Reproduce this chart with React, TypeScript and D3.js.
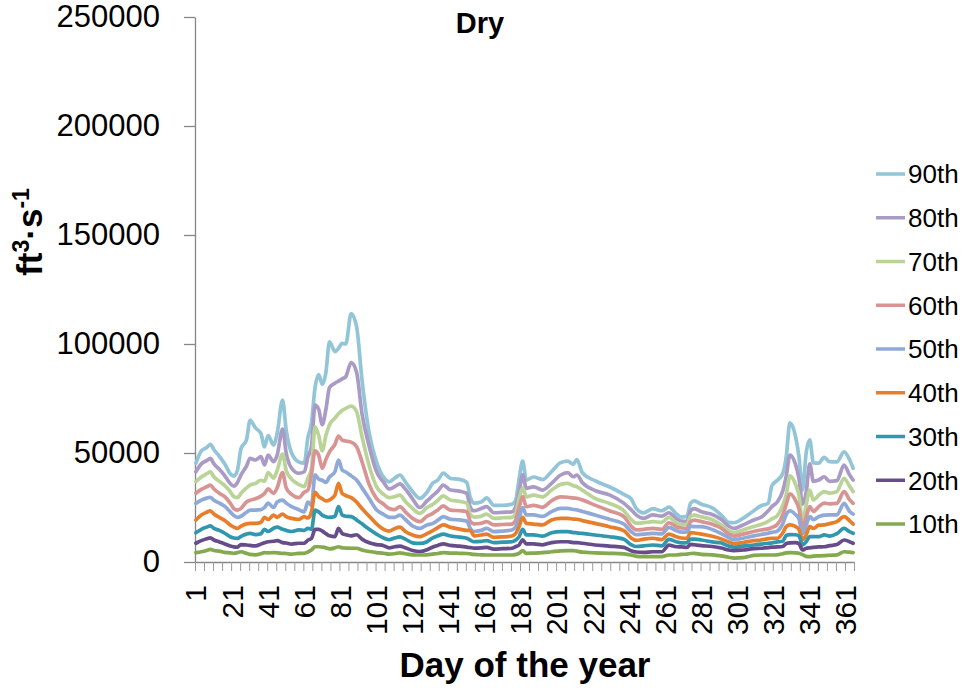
import * as React from 'react';
import * as d3 from 'd3';

// day of year for each sampled point
const days = [
  1, 4, 7, 9, 11, 14, 17, 20, 22, 24, 26, 29, 31, 34, 37, 39, 41, 44, 46, 49, 51, 54, 58, 61, 63, 65, 67, 69, 71, 73,
  75, 78, 80, 82, 84, 87, 90, 93, 97, 101, 105, 108, 111, 114, 117, 121, 125, 129,
  132, 135, 138, 142, 147, 151, 153, 155, 159, 162, 166, 171, 176, 178, 180, 182, 184, 188, 193, 198, 203, 207, 210,
  212, 215, 222, 230, 238, 242, 245, 249, 254, 259,
  263, 267, 270, 273, 275, 277, 281, 287, 292, 296, 299, 304, 310, 314, 318, 320, 323, 326, 328, 330, 333, 335, 337,
  339, 341, 343, 346, 349, 352, 356, 360, 363, 365,
];

// flows in thousands of ft3/s
const p90 = [
  45.4, 51, 52.5, 54, 51.5, 48.5, 45, 40.5, 39.4, 42, 52, 56, 65, 61.5, 59, 52.8, 58, 53.7, 59, 74.3, 60.5, 50, 45.9, 45.4, 57, 63.6, 80, 86, 81.5, 87,
  101, 96.5, 98, 100.3, 100, 114, 108, 83.5, 59, 46, 38.8, 36.8, 38.4, 39.9, 36.8, 32.3, 29.2, 32,
  36, 37.6, 40.8, 38.3, 37.9, 36.5, 29.5, 27, 27.5, 29.4, 26, 26, 26.5, 28, 38, 46.3, 37.6, 39, 37.8, 41.5, 45.6, 46.3, 44.8,
  47, 41, 37.3, 34.5, 31, 29, 24.5, 22.5, 24.5, 23.5,
  25.2, 22.2, 20.6, 21, 27, 28, 26.5, 24.8, 21.5, 18.2, 18, 20, 23.5, 25.8, 27, 35, 37.5, 40.5, 48.5, 63.8, 58, 48.5, 33,
  50, 56, 45.5, 45.4, 48, 46, 45.9, 50.5, 47, 43,
];
const p80 = [
  41.4, 45, 46.5, 47.5, 45, 42.5, 39.5, 36, 34.8, 36.5, 40, 44, 47.5, 46.8, 48.3, 44.5, 49, 46, 49, 61, 50, 43, 40.7, 41.4, 48, 53, 72, 70, 63, 70,
  80, 82, 83, 84, 85, 91.5, 87, 68, 53, 41.5, 36.5, 33.5, 34.5, 35.8, 33.5, 29, 25, 28,
  30.3, 32.5, 35.3, 33, 32.5, 31.5, 25, 23.5, 24.5, 25.4, 22.6, 22.8, 23, 25, 32, 40, 33.8, 34.5, 33, 36.1, 39.9, 41, 39.1,
  39.9, 36.5, 32.8, 30.8, 27, 24, 21.5, 20, 21.6, 21,
  22.6, 20, 18.8, 18.7, 23.5, 24.5, 23, 21.8, 19.5, 16.5, 15.4, 17, 19.3, 20.5, 23.5, 25.4, 27.5, 32.5, 39.5, 49, 45, 38.5, 26.5,
  32, 45, 37, 37.6, 39.1, 37, 37.3, 44.5, 40, 37.6,
];
const p70 = [
  36.9, 39, 40.5, 41.4, 39, 37, 35, 32.3, 30, 29.5, 31.5, 34, 35.3, 36, 37.5, 37, 41, 38.5, 42, 49.5, 42, 38, 35.5, 34.6, 38.5, 43, 62, 58, 51, 58,
  63, 66, 68, 69.5, 70.5, 71.5, 69, 57.5, 44, 34.6, 31, 29.5, 30, 30.7, 27.7, 24.6, 22.3, 25,
  26.3, 28.3, 30.3, 28.4, 27.8, 27, 21.8, 20.6, 21, 22, 20, 20.3, 20.5, 22, 29, 34, 29.9, 30.7, 29.9, 33, 35.6, 36.1, 35,
  34.5, 33, 29.2, 26.9, 23.5, 19.5, 17.8, 18, 18.5, 18.2,
  20.5, 18, 17.2, 17.2, 21, 21.5, 20.7, 19.4, 17, 14.5, 13.5, 14.7, 16.3, 17.2, 18.7, 19.8, 21.2, 26, 31, 39.5, 35.8, 30.5, 18.5,
  26, 33, 28.5, 30.7, 32.3, 31.6, 32.3, 38.4, 34.8, 32.3,
];
const p60 = [
  31.5, 33.3, 34.5, 35.3, 33.5, 31.5, 30, 27, 24.5, 23.8, 24.6, 27.5, 28.3, 29, 30.2, 31.5, 33.5, 31.5, 34, 41, 34, 31, 29.5, 32, 33, 40, 51, 49, 43, 47,
  50.5, 54, 57.8, 55.9, 55.5, 55, 52.9, 46, 35.5, 29.2, 26.5, 24.5, 24, 25.4, 23, 20, 18.5, 21,
  22.2, 23.9, 25.7, 23.8, 23.5, 23.1, 18.6, 17.5, 17.8, 18.5, 17, 17.2, 17.4, 19, 25, 30, 25.4, 26, 25.1, 28.1, 29.9, 29.7, 29.3,
  29.2, 28.5, 26.1, 23.5, 20.8, 16.5, 14.7, 15, 15.4, 15,
  18, 16.2, 15.6, 15.4, 18.5, 19.2, 18.5, 17.3, 15.5, 12.9, 11.9, 12.8, 14, 14.7, 15.2, 15.8, 17.2, 21.5, 26.5, 31.3, 28.4, 24.5, 15.5,
  20.5, 25.4, 23.2, 25.4, 27, 26.7, 26.9, 32.3, 28.6, 26.9,
];
const p50 = [
  26.9, 28.4, 29.3, 29.7, 28.3, 27, 25.5, 23, 21.3, 20.5, 21, 22.8, 23.8, 23.8, 24, 25, 27, 25, 27.5, 28.4, 27, 25.4, 24, 23, 27.5, 26, 40, 38, 37.5, 36.5,
  39, 41.4, 46.8, 42.2, 41.3, 39.5, 37.6, 34, 29, 24, 21.8, 20.5, 20.5, 21.5, 19.5, 16.5, 15.4, 17,
  17.6, 19.2, 20.8, 19.6, 19.3, 18.8, 15.4, 14, 14.5, 15.4, 13.9, 14.2, 14.7, 16, 20, 25, 21.6, 21.6, 20.9, 23.1, 24.6, 24.6, 24.1,
  23.9, 23.2, 21.6, 19.6, 17.4, 14, 12.5, 12.8, 13.1, 12.9,
  15.9, 14.4, 13.7, 13.8, 16.5, 16.2, 16.2, 14.9, 13, 11.2, 10.2, 10.9, 12, 12.6, 13.2, 13.6, 14.2, 17.5, 21.8, 23.5, 21.8, 19.8, 13,
  16.8, 20.8, 19.4, 20.8, 21.5, 21.6, 21.6, 26.9, 23.3, 22,
];
const p40 = [
  19.3, 21.6, 22.8, 23.5, 22, 20.5, 19, 17, 16, 15.4, 16.5, 17.5, 17.7, 17.7, 18.2, 20.5, 19.5, 21.5, 20.5, 22, 20.8, 20, 19.5, 20.8, 20.2, 23, 32, 30, 29, 28,
  28.5, 30.7, 36.1, 31.5, 30.5, 29.5, 27.5, 24.5, 21, 17.5, 15, 14.2, 15.3, 16, 14, 12.4, 11.6, 13,
  14.3, 15.8, 17, 15.9, 15.1, 14.5, 14.5, 12, 12.4, 12.8, 11.3, 11.5, 11.9, 13, 16.2, 20.5, 17.7, 17.4, 17, 19.3, 20, 20, 19.7,
  19.6, 19, 17.7, 16.2, 14.4, 11, 9.9, 10.5, 10.9, 10.3,
  12.8, 11.6, 11, 10.9, 13.5, 13.3, 12.8, 11.8, 10.6, 9.2, 8.4, 8.9, 9.8, 10.1, 10.7, 10.9, 10.9, 13.3, 16.3, 17, 16.3, 15, 10.3,
  12.4, 16.2, 15.4, 16.9, 17, 17.6, 18.5, 20.8, 19, 17.4,
];
const p30 = [
  13.4, 15, 16, 16.6, 15.4, 14.5, 13.2, 11.6, 11, 10.8, 11.8, 12.8, 13.1, 12.6, 13, 15, 14, 15.5, 16, 15, 14.5, 14, 14.7, 14.5, 15.4, 15, 23.8, 23, 21.5, 20.8,
  20.5, 21, 25.4, 21.6, 21, 20.8, 19.3, 17.5, 15, 12.8, 11, 10.2, 11, 11.5, 10.5, 8.8, 8.5, 9.3,
  11, 12, 12.8, 11.9, 11.4, 10.9, 10, 9.3, 9.5, 9.8, 8.9, 9.1, 9.3, 10, 11.6, 15, 12.4, 12.4, 11.9, 13.4, 13.9, 13.9, 13.5,
  13.4, 13.1, 12.4, 11.6, 10.4, 8, 7.1, 7.4, 7.8, 7.4,
  10.4, 9.3, 8.8, 8.9, 10.5, 10.5, 10.1, 9.2, 8.7, 7.3, 6.8, 7.3, 7.8, 8.2, 8.6, 8.8, 9.2, 9.5, 12.2, 12.6, 12.5, 12, 7.9,
  9.3, 11.6, 11.6, 11.6, 12.4, 11.9, 13, 15.4, 13.9, 13.2,
];
const p20 = [
  8.6, 9.8, 10.7, 11.1, 10.1, 9.2, 8.3, 7.3, 6.9, 6.8, 8, 7.8, 7.6, 7.4, 8.2, 8.8, 9.3, 9.5, 9.8, 8.9, 8.7, 8.2, 8.6, 8.6, 10, 10.8, 15, 15, 14.2, 13,
  12, 11.6, 15.4, 13.1, 12.5, 12, 12.5, 10.5, 8.8, 8, 7.5, 6.5, 7, 7.3, 6.5, 5.3, 4.8, 5.6,
  6.8, 7.6, 8.3, 7.6, 7.3, 6.8, 6.6, 6.4, 6.5, 6.7, 5.9, 6.1, 6.3, 7, 7.8, 10.2, 8.3, 8.3, 7.9, 8.9, 9.3, 9.3, 8.9,
  8.9, 8.6, 7.8, 7.3, 6.7, 5.2, 4.6, 4.4, 4.7, 4.7,
  7.7, 7, 6.9, 6.7, 8.1, 7.9, 7.5, 7.1, 6.4, 5.5, 5.2, 5.5, 6.1, 6.3, 6.6, 6.8, 6.9, 7.1, 8.5, 8.8, 8.9, 8.4, 5.5,
  6.3, 6.5, 6.7, 6.9, 7, 7.5, 8, 10.1, 9.3, 8.6,
];
const p10 = [
  4.3, 4.7, 5.3, 5.8, 5.3, 5, 4.4, 4.2, 4, 4.3, 4.7, 4, 3.5, 3.3, 3.8, 4.3, 4.2, 4.3, 4.2, 4, 3.9, 3.6, 4, 4, 4.6, 5.5, 7, 7, 6.8, 6.5,
  6, 6.5, 7, 6.5, 6.4, 6.3, 6.3, 5.5, 4.8, 4.3, 4, 3.6, 3.8, 4.2, 3.8, 3.3, 3.2, 3.3,
  3.6, 3.9, 4.3, 4.1, 4, 3.9, 3.7, 3.5, 3.3, 3.2, 3.2, 3.2, 3.2, 3.4, 4, 5.2, 4, 4.1, 4.3, 4.7, 5.1, 5.2, 5.2,
  5, 4.5, 4.2, 4, 3.7, 3.2, 2.6, 2.5, 2.5, 2.5,
  3.2, 3.2, 3.5, 3.6, 3.9, 4, 3.5, 3.3, 2.8, 2.2, 1.8, 2, 3, 3.2, 3.2, 3.2, 3.3, 3.8, 4.2, 4.3, 4.2, 4, 3.4,
  2.6, 2.5, 2.7, 2.8, 2.9, 3.1, 3.3, 4.7, 4.5, 4.3,
];

const seriesNames = ['90th', '80th', '70th', '60th', '50th', '40th', '30th', '20th', '10th'];
const seriesValues = [p90, p80, p70, p60, p50, p40, p30, p20, p10];
const seriesColors = ['#92C5D8', '#A99BC5', '#BAD396', '#D89492', '#8FAAD8', '#E67E2C', '#3097AF', '#674C8C', '#85A94E'];

const yTicks = [0, 50, 100, 150, 200, 250];
const xTickLabels = [1, 21, 41, 61, 81, 101, 121, 141, 161, 181, 201, 221, 241, 261, 281, 301, 321, 341, 361];

const FONT = '"Liberation Sans", Arial, sans-serif';

export default function App() {
  const ref = React.useRef<SVGSVGElement>(null);

  React.useEffect(() => {
    if (!ref.current) return;
    const svg = d3.select(ref.current);
    svg.selectAll('*').remove();

    const left = 195, right = 854, top = 17, bottom = 562;
    const x = d3.scaleLinear().domain([0, 365]).range([left, right]);
    const y = d3.scaleLinear().domain([0, 250]).range([bottom, top]);

    // y axis
    const gy = svg.append('g')
      .attr('transform', `translate(${left},0)`)
      .call(d3.axisLeft(y).tickValues(yTicks).tickSize(11).tickSizeOuter(0).tickPadding(24)
        .tickFormat(d => String(+d * 1000)));
    gy.select('.domain').attr('stroke', '#868686').attr('stroke-width', 1.3);
    gy.selectAll('.tick line').attr('stroke', '#868686').attr('stroke-width', 1.3);
    gy.selectAll('.tick text').attr('font-size', 31).attr('font-family', FONT).attr('fill', '#000');

    // x axis
    const gx = svg.append('g')
      .attr('transform', `translate(0,${bottom})`)
      .call(d3.axisBottom(x).tickValues(d3.range(0, 366, 5)).tickSize(9).tickSizeOuter(0).tickFormat(() => ''));
    gx.select('.domain').attr('stroke', '#868686').attr('stroke-width', 1.3);
    gx.selectAll('.tick line').attr('stroke', '#9a9a9a').attr('stroke-width', 1);

    svg.append('g')
      .selectAll('text')
      .data(xTickLabels)
      .enter().append('text')
        .attr('transform', d => `translate(${x(d - 0.5)},585) rotate(-90)`)
        .attr('text-anchor', 'end')
        .attr('dy', '0.35em')
        .attr('font-size', 30)
        .attr('font-family', FONT)
        .attr('fill', '#000')
        .text(d => d);

    // lines
    const line = d3.line<number>()
      .x((_, i) => x(days[i] - 0.5))
      .y(v => y(v))
      .curve(d3.curveMonotoneX);

    svg.append('g')
      .selectAll('path')
      .data(seriesValues)
      .enter().append('path')
        .attr('d', d => line(d))
        .attr('fill', 'none')
        .attr('stroke', (_, i) => seriesColors[i])
        .attr('stroke-width', 3.7)
        .attr('stroke-linejoin', 'round')
        .attr('stroke-linecap', 'round');

    // legend
    const legend = svg.append('g')
      .selectAll('g')
      .data(seriesNames)
      .enter().append('g')
        .attr('transform', (_, i) => `translate(876,${174 + i * 43.75})`);
    legend.append('line')
      .attr('x1', 0).attr('x2', 29)
      .attr('stroke', (_, i) => seriesColors[i])
      .attr('stroke-width', 3.5);
    legend.append('text')
      .attr('x', 32)
      .attr('dy', '0.36em')
      .attr('font-size', 26)
      .attr('font-family', FONT)
      .attr('fill', '#000')
      .text(d => d);

    // titles
    svg.append('text')
      .attr('x', 480).attr('y', 33)
      .attr('text-anchor', 'middle')
      .attr('font-size', 29).attr('font-weight', 'bold').attr('font-family', FONT)
      .text('Dry');

    svg.append('text')
      .attr('x', 525).attr('y', 677)
      .attr('text-anchor', 'middle')
      .attr('font-size', 35).attr('font-weight', 'bold').attr('font-family', FONT)
      .text('Day of the year');

    const yl = svg.append('text')
      .attr('transform', 'translate(42,232) rotate(-90)')
      .attr('text-anchor', 'middle')
      .attr('font-size', 35).attr('font-weight', 'bold').attr('font-family', FONT);
    yl.append('tspan').text('ft');
    yl.append('tspan').attr('dy', -13).attr('font-size', 23).text('3');
    yl.append('tspan').attr('dy', 13).text('\u00B7s');
    yl.append('tspan').attr('dy', -13).attr('font-size', 23).text('-1');
  }, []);

  return (
    <svg ref={ref} width={964} height={692}
      style={{ position: 'absolute', left: 0, top: 0, background: '#fff' }} />
  );
}
